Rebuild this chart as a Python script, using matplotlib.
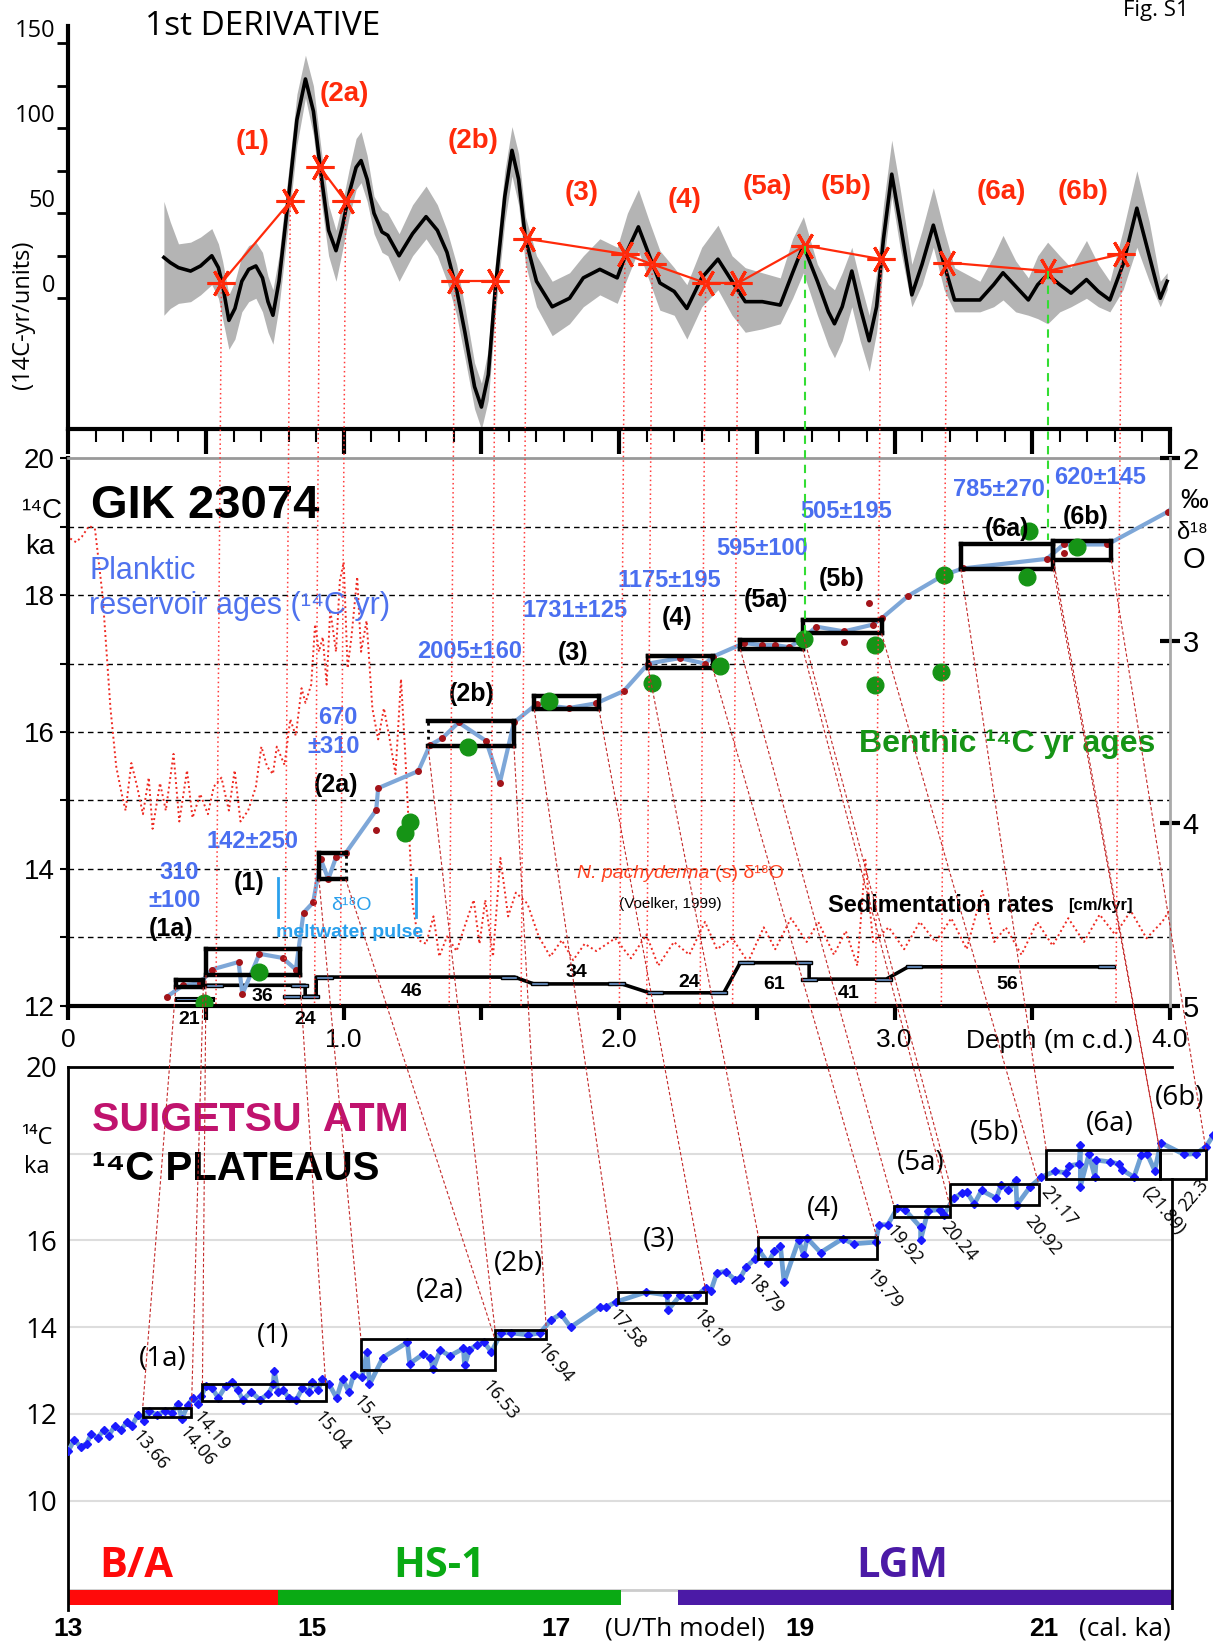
import matplotlib
matplotlib.use("Agg")
import matplotlib.pyplot as plt
from matplotlib.patches import Rectangle

plt.rcParams['font.family'] = ['Liberation Sans', 'DejaVu Sans']

# reference frame (pixels) used to place axes and free text
W, H = 1154, 1568

# ---------------- top panel: 1st derivative vs depth ----------------
deriv_depth = [0.347, 0.37, 0.40, 0.444, 0.48, 0.521, 0.545, 0.56, 0.583, 0.605,
               0.63, 0.655, 0.681, 0.705, 0.725, 0.743, 0.765, 0.80, 0.83, 0.861,
               0.89, 0.92, 0.945, 0.972, 0.995, 1.02, 1.045, 1.063, 1.085, 1.11,
               1.139, 1.16, 1.201, 1.25, 1.299, 1.34, 1.375, 1.41, 1.44, 1.475,
               1.50, 1.525, 1.55, 1.585, 1.611, 1.635, 1.66, 1.70, 1.757, 1.82,
               1.87, 1.93, 1.993, 2.03, 2.07, 2.11, 2.148, 2.20, 2.246, 2.30,
               2.359, 2.41, 2.458, 2.52, 2.585, 2.63, 2.669, 2.72, 2.76, 2.782,
               2.81, 2.845, 2.875, 2.908, 2.935, 2.96, 2.99, 3.02, 3.063, 3.10,
               3.141, 3.18, 3.218, 3.31, 3.36, 3.394, 3.44, 3.486, 3.52, 3.556,
               3.60, 3.641, 3.697, 3.74, 3.782, 3.83, 3.88, 3.925, 3.965, 3.99]
deriv_val = [24, 21, 18, 16, 19, 25, 18, 8, -13, -6,
             10, 17, 19, 12, -2, -10, 10, 60, 105, 129,
             110, 70, 40, 28, 42, 62, 77, 81, 70, 50,
             39, 37, 25, 38, 48, 40, 27, 5, -20, -52,
             -64, -45, 5, 60, 87, 70, 35, 10, -5, 0,
             12, 17, 12, 28, 42, 25, 9, 4, -6, 12,
             23, 10, -2, -2, -4, 15, 31, 10, -8, -15,
             -5, 16, -5, -25, -5, 35, 73, 45, 2, 20,
             43, 20, -1, -1, 8, 15, 7, -1, 8, 14,
             8, 3, 11, 4, -1, 20, 53, 25, 0, 10]
deriv_lo = [-10, -6, -3, -2, 2, 8, 0, -12, -30, -24,
            -8, -2, 0, -8, -20, -27, -5, 45, 90, 118,
            96, 55, 25, 10, 28, 48, 64, 68, 57, 38,
            27, 25, 10, 25, 35, 25, 10, -10, -35, -65,
            -77, -60, -10, 45, 72, 55, 20, -5, -22, -15,
            -5, 2, -3, 12, 28, 10, -7, -10, -24, -5,
            5, -10, -20, -18, -15, 0, 15, -10, -28, -35,
            -25, -5, -25, -43, -20, 20, 60, 30, -5, 8,
            30, 5, -8, -8, -5, -1, -8, -10, -12, -15,
            -8, -5, 0, -5, -8, 5, 30, 10, -5, 5]
deriv_hi = [57, 45, 32, 33, 36, 41, 32, 22, 2, 10,
            25, 31, 33, 27, 13, 5, 25, 75, 120, 143,
            125, 85, 55, 40, 56, 76, 94, 98, 84, 60,
            52, 50, 38, 55, 66, 55, 40, 20, -5, -38,
            -50, -30, 20, 75, 101, 85, 48, 25, 10, 15,
            25, 35, 30, 50, 64, 45, 28, 18, 8, 30,
            43, 25, 18, 15, 12, 35, 48, 20, 8, 5,
            15, 30, 10, -10, 15, 55, 93, 65, 20, 40,
            65, 40, 18, 10, 25, 37, 22, 12, 25, 33,
            25, 18, 34, 20, 10, 40, 75, 45, 10, 15]

# red asterisks (depth, value), joined in groups
star_depth = [0.556, 0.806, 0.914, 1.007, 1.403, 1.551, 1.664, 2.021, 2.12,
              2.314, 2.432, 2.676, 2.951, 3.19, 3.556, 3.824]
star_val = [9, 57, 77, 57, 10, 10, 35, 26, 20, 9, 9, 31, 23, 21, 16, 26]
star_groups = [(0, 2), (2, 4), (4, 6), (6, 13), (13, 16)]
green_star_idx = [11, 14]

top_labels = ['(1)', '(2a)', '(2b)', '(3)', '(4)', '(5a)', '(5b)', '(6a)', '(6b)']
top_label_xy = [(240, 135), (328, 89), (450, 134), (553, 184), (651, 190),
                (730, 178), (805, 178), (953, 183), (1030, 183)]

# ---------------- middle panel: GIK 23074 ----------------
plank_depth = [0.357, 0.417, 0.479, 0.521, 0.618, 0.632, 0.694, 0.778, 0.826, 0.854,
               0.889, 0.917, 0.944, 0.972, 1.007, 1.118, 1.125, 1.271, 1.313, 1.358,
               1.417, 1.517, 1.567, 1.618, 1.701, 1.817, 1.917, 2.017, 2.106, 2.22,
               2.312, 2.34, 2.454, 2.518, 2.567, 2.617, 2.667, 2.716, 2.816, 2.922,
               2.953, 3.05, 3.177, 3.248, 3.553, 3.614, 3.773, 3.993, 4.128]
plank_c14 = [12.13, 12.30, 12.33, 12.53, 12.64, 12.17, 12.76, 12.70, 12.53, 13.36,
             13.51, 14.14, 13.85, 14.17, 14.23, 14.86, 15.18, 15.43, 15.81, 15.91,
             16.14, 15.87, 15.26, 16.14, 16.41, 16.35, 16.42, 16.60, 17.00, 17.08,
             17.00, 17.10, 17.30, 17.27, 17.27, 17.24, 17.36, 17.54, 17.47, 17.57,
             17.66, 17.99, 18.29, 18.39, 18.53, 18.74, 18.74, 19.22, 19.74]
extra_dot_depth = [1.118, 2.816, 2.908, 3.614]
extra_dot_c14 = [14.57, 17.31, 17.89, 18.62]

benth_depth = [0.493, 0.694, 1.222, 1.239, 1.451, 1.747, 2.121, 2.366, 2.67, 2.93,
               2.93, 3.17, 3.18, 3.48, 3.49, 3.662]
benth_c14 = [12.04, 12.50, 14.53, 14.69, 15.78, 16.46, 16.72, 16.97, 17.36, 17.27,
             16.68, 16.88, 18.29, 18.26, 18.93, 18.71]

o18_depth = [0.007, 0.028, 0.049, 0.076, 0.097, 0.125, 0.153, 0.174, 0.194, 0.208,
             0.229, 0.25, 0.271, 0.292, 0.306, 0.333, 0.354, 0.382, 0.403, 0.431,
             0.451, 0.479, 0.507, 0.528, 0.556, 0.583, 0.604, 0.625, 0.653, 0.681,
             0.701, 0.722, 0.743, 0.757, 0.785, 0.806, 0.826, 0.847, 0.861, 0.882,
             0.896, 0.91, 0.924, 0.938, 0.951, 0.972, 0.986, 1.0, 1.014, 1.028,
             1.049, 1.063, 1.083, 1.104, 1.125, 1.146, 1.167, 1.188, 1.208, 1.222,
             1.236, 1.25, 1.271, 1.299, 1.326, 1.347, 1.375, 1.41, 1.438, 1.472,
             1.493, 1.514, 1.542, 1.569, 1.597, 1.625, 1.667, 1.708, 1.75, 1.792,
             1.833, 1.875, 1.917, 1.986, 2.043, 2.099, 2.142, 2.199, 2.255, 2.312,
             2.355, 2.411, 2.468, 2.525, 2.567, 2.624, 2.681, 2.723, 2.78, 2.823,
             2.865, 2.894, 2.922, 2.979, 3.035, 3.092, 3.149, 3.206, 3.262, 3.319,
             3.362, 3.404, 3.461, 3.518, 3.574, 3.631, 3.688, 3.745, 3.801, 3.858,
             3.915, 3.972, 4.014]
o18_val = [2.44, 2.46, 2.43, 2.37, 2.39, 2.76, 3.37, 3.69, 3.84, 3.93,
           3.67, 3.80, 3.95, 3.75, 4.03, 3.78, 3.93, 3.62, 3.99, 3.71,
           3.97, 3.84, 3.95, 3.80, 3.75, 3.93, 3.71, 3.99, 3.93, 3.80,
           3.58, 3.69, 3.73, 3.58, 3.68, 3.43, 3.52, 3.26, 3.34, 3.24,
           2.91, 3.06, 2.98, 3.24, 2.83, 3.06, 2.67, 2.57, 3.15, 2.98,
           2.65, 3.06, 2.89, 3.37, 3.54, 3.37, 3.54, 3.73, 3.21, 3.58,
           4.01, 4.44, 4.64, 4.66, 4.51, 4.73, 4.62, 4.70, 4.57, 4.42,
           4.66, 4.42, 4.73, 4.19, 4.51, 4.38, 4.44, 4.62, 4.73, 4.64,
           4.75, 4.66, 4.70, 4.63, 4.74, 4.61, 4.78, 4.65, 4.72, 4.54,
           4.69, 4.63, 4.76, 4.57, 4.69, 4.52, 4.65, 4.54, 4.72, 4.59,
           4.78, 4.20, 4.65, 4.57, 4.69, 4.54, 4.65, 4.52, 4.69, 4.37,
           4.65, 4.57, 4.72, 4.54, 4.67, 4.52, 4.65, 4.50, 4.61, 4.48,
           4.63, 4.54, 4.44]

# plateau boxes: depth range and 14C range (ka) in the core, cal range and 14C in Suigetsu
plat_names = ['(1a)', '(1)', '(2a)', '(2b)', '(3)', '(4)', '(5a)', '(5b)', '(6a)', '(6b)']
mid_d0 = [0.39, 0.50, 0.91, 1.306, 1.692, 2.106, 2.44, 2.667, 3.241, 3.577]
mid_d1 = [0.49, 0.84, 1.007, 1.618, 1.927, 2.34, 2.667, 2.953, 3.577, 3.787]
mid_lo = [12.27, 12.45, 13.85, 15.80, 16.33, 16.93, 17.21, 17.44, 18.38, 18.51]
mid_hi = [12.38, 12.83, 14.24, 16.16, 16.52, 17.11, 17.34, 17.64, 18.74, 18.79]
# which side of the core box is drawn dotted (None = all solid)
mid_dotted = [None, None, 'right', 'left', None, None, None, None, None, None]
bot_c0 = [13.61, 14.10, 15.40, 16.50, 17.51, 18.66, 19.77, 20.23, 21.02, 21.95]
bot_c1 = [14.01, 15.11, 16.50, 16.92, 18.23, 19.63, 20.23, 20.96, 21.95, 22.33]
bot_lo = [11.92, 12.30, 13.01, 13.73, 14.56, 15.57, 16.55, 16.82, 17.41, 17.41]
bot_hi = [12.14, 12.70, 13.72, 13.93, 14.81, 16.08, 16.80, 17.29, 18.09, 18.09]

reservoir_txt = ['310', '±100', '142±250', '670', '±310', '2005±160', '1731±125',
                 '1175±195', '595±100', '505±195', '785±270', '620±145']
reservoir_xy = [(170, 830), (166, 857), (240, 801), (321, 683), (317, 710), (447, 620),
                (547, 581), (637, 552), (725, 522), (805, 487), (950, 466), (1047, 454)]
mid_label_xy = [(163, 884), (237, 840), (320, 747), (449, 660), (545, 621), (644, 588),
                (729, 571), (801, 551), (958, 503), (1033, 492)]

# sedimentation rate steps (depth, 14C-axis level) and rates
sed_path_d = [0.50, 0.86, 0.86, 0.90, 0.90, 1.62, 1.69, 2.01, 2.11, 2.38, 2.44, 2.69,
              2.69, 2.97, 3.05, 3.79]
sed_path_c = [12.30, 12.30, 12.14, 12.14, 12.42, 12.42, 12.32, 12.32, 12.19, 12.19,
              12.63, 12.63, 12.39, 12.39, 12.57, 12.57]
sed_end_d = [0.53, 0.84, 0.81, 0.88, 0.93, 1.60, 1.71, 1.99, 2.13, 2.36, 2.46, 2.67,
             2.69, 2.96, 3.07, 3.77]
sed_end_c = [12.30, 12.30, 12.14, 12.14, 12.42, 12.42, 12.32, 12.32, 12.19, 12.19,
             12.63, 12.63, 12.39, 12.39, 12.57, 12.57]
sed_rates = ['21', '36', '24', '46', '34', '24', '61', '41', '56']
sed_label_xy = [(180, 970), (250, 948), (290, 970), (392, 943), (548, 925), (656, 935),
                (736, 937), (807, 945), (958, 937)]

# ---------------- bottom panel: Suigetsu atmospheric 14C ----------------
sui_cal = [12.91, 12.96, 13.0, 13.05, 13.10, 13.15, 13.19, 13.24, 13.29, 13.33, 13.38,
           13.43, 13.48, 13.52, 13.57, 13.62, 13.66, 13.73, 13.79, 13.85, 13.90, 13.93,
           13.98, 14.02, 14.06, 14.09, 14.13, 14.18, 14.23, 14.29, 14.34, 14.39, 14.43,
           14.50, 14.57, 14.64, 14.68, 14.69, 14.72, 14.76, 14.81, 14.87, 14.92, 14.97,
           15.0, 15.05, 15.08, 15.14, 15.20, 15.25, 15.30, 15.34, 15.41, 15.45, 15.47,
           15.58, 15.78, 15.80, 15.91, 15.97, 15.99, 16.05, 16.13, 16.24, 16.25, 16.29,
           16.35, 16.41, 16.47, 16.55, 16.63, 16.77, 16.87, 16.96, 17.04, 17.12, 17.36,
           17.41, 17.49, 17.74, 17.91, 17.92, 18.02, 18.08, 18.16, 18.23, 18.27, 18.32,
           18.39, 18.47, 18.51, 18.56, 18.63, 18.66, 18.74, 18.79, 18.84, 18.87, 18.99,
           19.03, 19.06, 19.17, 19.35, 19.44, 19.62, 19.65, 19.72, 19.80, 19.86, 19.99,
           19.99, 20.05, 20.15, 20.18, 20.26, 20.33, 20.37, 20.43, 20.49, 20.61, 20.65,
           20.71, 20.77, 20.78, 20.89, 20.98, 21.09, 21.18, 21.21, 21.29, 21.30, 21.30,
           21.37, 21.42, 21.43, 21.54, 21.62, 21.64, 21.74, 21.80, 21.85, 21.91, 21.96,
           22.15, 22.25, 22.33, 22.39]
sui_c14 = [11.10, 11.02, 11.15, 11.41, 11.24, 11.32, 11.54, 11.45, 11.63, 11.50, 11.72,
           11.63, 11.81, 11.72, 11.98, 11.85, 12.07, 11.98, 12.07, 12.02, 12.24, 11.89,
           12.20, 12.37, 12.24, 12.42, 12.64, 12.59, 12.37, 12.64, 12.73, 12.55, 12.33,
           12.51, 12.33, 12.46, 12.68, 12.99, 12.51, 12.55, 12.37, 12.33, 12.59, 12.51,
           12.73, 12.55, 12.81, 12.68, 12.37, 12.81, 12.51, 12.90, 12.86, 13.43, 12.68,
           13.30, 13.65, 13.16, 13.38, 13.30, 13.03, 13.47, 13.34, 13.51, 13.12, 13.47,
           13.60, 13.65, 13.43, 13.87, 13.87, 13.82, 13.87, 14.17, 14.30, 14.00, 14.46,
           14.46, 14.58, 14.81, 14.74, 14.40, 14.74, 14.65, 14.74, 14.91, 14.84, 15.26,
           15.28, 15.09, 15.13, 15.39, 15.57, 15.79, 15.48, 15.75, 15.88, 15.04, 16.01,
           15.66, 16.05, 15.72, 16.04, 15.92, 15.96, 16.36, 16.36, 16.75, 16.71, 16.30,
           16.01, 16.68, 16.71, 16.58, 16.97, 17.09, 17.11, 16.84, 17.15, 16.97, 17.28,
           17.15, 17.39, 16.82, 17.24, 17.46, 17.59, 17.56, 17.72, 17.76, 18.20, 17.24,
           17.98, 17.46, 17.85, 17.81, 17.76, 17.63, 17.46, 17.96, 17.98, 17.61, 18.25,
           17.98, 18.00, 18.16, 18.42]

bot_label_xy = [(155, 1293), (260, 1271), (418, 1228), (493, 1203), (627, 1180),
                (783, 1150), (876, 1107), (946, 1078), (1056, 1069), (1122, 1045)]
cal_txt = ['13.66', '14.06', '14.19', '15.04', '15.42', '16.53', '16.94', '17.58', '18.19',
           '18.79', '19.79', '19.92', '20.24', '20.92', '21.17', '(21.89)', '22.3']
cal_txt_xy = [(129, 1363), (173, 1359), (187, 1345), (302, 1345), (339, 1330), (462, 1316),
              (514, 1280), (582, 1248), (662, 1248), (714, 1215), (827, 1210), (846, 1168),
              (898, 1164), (978, 1159), (993, 1131), (1090, 1131), (1125, 1150)]
cal_txt_rot = [-50] * 16 + [50]

periods = ['B/A', 'HS-1', 'LGM']
period_start = [13.0, 14.72, 18.0]
period_end = [14.72, 17.53, 22.05]
period_col = ['#ff0a0a', '#0aaa14', '#4b1aa6']
period_xy = [(130, 1490), (418, 1490), (858, 1490)]

OPEN = ['Open Sans', 'DejaVu Sans']


def frac_rect(x0, y0, x1, y1):
    return [x0 / W, 1 - y1 / H, (x1 - x0) / W, (y1 - y0) / H]


def ftext(x, y, s, **kw):
    kw.setdefault('ha', 'center')
    kw.setdefault('va', 'center')
    return fig.text(x / W, 1 - y / H, s, **kw)


fig = plt.figure(figsize=(12.13, 16.48), dpi=100)

# ======== top panel ========
ax_top = fig.add_axes(frac_rect(65, 25, 1113, 408))
ax_top.set_xlim(0, 4.0)
ax_top.set_ylim(-76.8, 160)
ax_top.fill_between(deriv_depth, deriv_lo, deriv_hi, color='#b4b4b4', lw=0)
ax_top.plot(deriv_depth, deriv_val, color='black', lw=2.6, solid_joinstyle='round')
for a, b in star_groups:
    ax_top.plot(star_depth[a:b], star_val[a:b], color='#ff2a0a', lw=1.6)
ax_top.plot(star_depth, star_val, ls='none', marker=(6, 2, 90), ms=20, mew=2.2,
            color='#ff2a0a')
for s in ['top', 'right']:
    ax_top.spines[s].set_visible(False)
for s in ['left', 'bottom']:
    ax_top.spines[s].set_linewidth(3)
ax_top.set_yticks([0, 25, 50, 75, 100, 125, 150])
ax_top.set_yticklabels(['0', '', '50', '', '100', '', '150'])
ax_top.tick_params(axis='y', direction='out', length=8, width=2, labelsize=17, pad=1)
for lbl in ax_top.get_yticklabels():
    lbl.set_va('bottom')
    lbl.set_family(OPEN)
ax_top.set_xticks([i * 0.5 for i in range(9)])
ax_top.set_xticks([i * 0.1 for i in range(41)], minor=True)
ax_top.set_xticklabels([])
ax_top.tick_params(axis='x', which='major', direction='out', length=18, width=3)
ax_top.tick_params(axis='x', which='minor', direction='out', length=9, width=1.5)
ax_top.patch.set_alpha(0)

ftext(250, 25, '1st DERIVATIVE', fontsize=24, family=OPEN)
ftext(22, 300, '(14C-yr/units)', fontsize=17, rotation=90, family=OPEN)
for t, (x, y) in zip(top_labels, top_label_xy):
    ftext(x, y, t, fontsize=20, weight='bold', color='#ff2a0a')
ftext(1100, 10, 'Fig. S1', fontsize=16, family=OPEN)

# ======== middle panel ========
ax_mid = fig.add_axes(frac_rect(65, 436, 1113, 957))
ax_mid.set_xlim(0, 4.0)
ax_mid.set_ylim(12, 20)
ax_o18 = ax_mid.twinx()
ax_o18.set_ylim(5, 2)

for lev in range(13, 20):
    ax_mid.axhline(lev, color='black', lw=1, ls=(0, (4, 3)), zorder=1)

ax_mid.plot(o18_depth, o18_val, color='#ee2a22', lw=1.4, ls=(0, (1, 1.5)),
            transform=ax_o18.transData, zorder=2)

ax_mid.plot(sed_path_d, sed_path_c, color='black', lw=2.6, zorder=3)
ax_mid.add_patch(Rectangle((0.39, 12.07), 0.14, 0.05, fc='#6f9bd1', ec='black', lw=1.5,
                           zorder=4))
for d, c in zip(sed_end_d, sed_end_c):
    ax_mid.add_patch(Rectangle((d - 0.03, c - 0.022), 0.06, 0.044, fc='#6f9bd1',
                               ec='black', lw=1, zorder=4))

ax_mid.plot(plank_depth, plank_c14, color='#7ea7d8', lw=3, zorder=4)
ax_mid.plot(plank_depth, plank_c14, ls='none', marker='o', ms=4, color='#a3141a',
            zorder=5)
ax_mid.plot(extra_dot_depth, extra_dot_c14, ls='none', marker='o', ms=4, color='#a3141a',
            zorder=5)

for i in range(len(plat_names)):
    x0, x1, y0, y1 = mid_d0[i], mid_d1[i], mid_lo[i], mid_hi[i]
    sides = {'top': ([x0, x1], [y1, y1]), 'bottom': ([x0, x1], [y0, y0]),
             'left': ([x0, x0], [y0, y1]), 'right': ([x1, x1], [y0, y1])}
    for name, (xs, ys) in sides.items():
        if name == mid_dotted[i]:
            ax_mid.plot(xs, ys, color='black', lw=2, ls=(0, (1, 1.5)), zorder=6)
        else:
            ax_mid.plot(xs, ys, color='black', lw=3.2, solid_capstyle='projecting',
                        zorder=6)

ax_mid.plot(benth_depth, benth_c14, ls='none', marker='o', ms=12, color='#169416',
            zorder=7)

# meltwater pulse bars
for d in [0.763, 1.263]:
    ax_mid.plot([d, d], [13.3, 13.87], color='#2aa0ec', lw=2, zorder=5)

ax_mid.spines['left'].set_linewidth(3)
ax_mid.spines['bottom'].set_linewidth(3)
ax_mid.spines['top'].set_color('#999999')
ax_mid.spines['top'].set_linewidth(2)
for s in ax_o18.spines.values():
    s.set_visible(False)
ax_o18.spines['right'].set_visible(True)
ax_o18.spines['right'].set_color('#aaaaaa')
ax_o18.spines['right'].set_linewidth(2)
ax_mid.spines['right'].set_visible(False)

ax_mid.set_yticks(range(12, 21))
ax_mid.set_yticklabels(['12', '', '14', '', '16', '', '18', '', '20'])
ax_mid.tick_params(axis='y', direction='out', length=6, width=1.5, labelsize=20, pad=4)
ax_mid.set_xticks([i * 0.5 for i in range(9)])
ax_mid.set_xticklabels(['0', '', '1.0', '', '2.0', '', '3.0', '', '4.0'])
ax_mid.tick_params(axis='x', direction='out', length=10, width=3, labelsize=19, pad=6)
ax_o18.set_yticks([2, 3, 4, 5])
ax_o18.tick_params(axis='y', direction='inout', length=14, width=3, labelsize=21, pad=2,
                   colors='black')

ftext(87, 481, 'GIK 23074', fontsize=34, weight='bold', ha='left')
ftext(40, 486, '¹⁴C', fontsize=20)
ftext(38, 520, 'ka', fontsize=20)
ftext(85, 543, 'Planktic', fontsize=22, color='#4f72ee', ha='left')
ftext(85, 577, 'reservoir ages (¹⁴C yr)', fontsize=22, color='#4f72ee', ha='left')
for t, (x, y) in zip(reservoir_txt, reservoir_xy):
    ftext(x, y, t, fontsize=17, weight='bold', color='#4a6ff0')
for t, (x, y) in zip(plat_names, mid_label_xy):
    ftext(x, y, t, fontsize=18, weight='bold')
ftext(334, 862, 'δ¹⁸O', fontsize=14, color='#2aa0ec')
ftext(333, 887, 'meltwater pulse', fontsize=14, weight='bold', color='#2aa0ec')
ftext(675, 831, 'N. pachyderma', fontsize=14, style='italic', color='#ff4422', ha='right')
ftext(680, 831, '(s) δ¹⁸O', fontsize=14, color='#ff4422', ha='left')
ftext(638, 860, '(Voelker, 1999)', fontsize=11)
ftext(788, 862, 'Sedimentation rates', fontsize=17, weight='bold', ha='left')
ftext(1016, 862, '[cm/kyr]', fontsize=12, weight='bold', ha='left')
ftext(958, 708, 'Benthic ¹⁴C yr ages', fontsize=23, weight='bold', color='#169416')
ftext(1136, 477, '‰', fontsize=20)
ftext(1134, 507, 'δ¹⁸', fontsize=17)
ftext(1136, 533, 'O', fontsize=21)
ftext(999, 990, 'Depth (m c.d.)', fontsize=19)
for t, (x, y) in zip(sed_rates, sed_label_xy):
    ftext(x, y, t, fontsize=14, weight='bold')

# ======== bottom panel ========
ax_bot = fig.add_axes(frac_rect(65, 1015, 1154, 1532))
ax_bot.set_xlim(13, 13 + 1089 / 116)
ax_bot.set_ylim(7.48, 20)
for lev in [10, 12, 14, 16, 18]:
    ax_bot.plot([13, 22.05], [lev, lev], color='#dddddd', lw=1.5, zorder=1)
ax_bot.plot([13, 22.05], [20, 20], color='black', lw=2, clip_on=False, zorder=3)
ax_bot.plot([22.05, 22.05], [7.48, 17.41], color='black', lw=2, zorder=3)
ax_bot.plot([13, 22.05], [7.95, 7.95], color='#cccccc', lw=2, zorder=1)
for a, b, c in zip(period_start, period_end, period_col):
    ax_bot.add_patch(Rectangle((a, 7.6), b - a, 0.35, color=c, lw=0, zorder=2))

ax_bot.plot(sui_cal, sui_c14, color='#6d9fd3', lw=3.4, zorder=3)
ax_bot.plot(sui_cal, sui_c14, ls='none', marker='D', ms=4.5, color='#1a1aff', zorder=4)
for i in range(len(plat_names)):
    ax_bot.add_patch(Rectangle((bot_c0[i], bot_lo[i]), bot_c1[i] - bot_c0[i],
                               bot_hi[i] - bot_lo[i], fill=False, ec='black', lw=2,
                               zorder=5))

for s in ['top', 'right', 'bottom']:
    ax_bot.spines[s].set_visible(False)
ax_bot.spines['left'].set_linewidth(2)
ax_bot.set_yticks([10, 12, 14, 16, 20])
ax_bot.tick_params(axis='y', length=0, labelsize=20, pad=8)
for lbl in ax_bot.get_yticklabels():
    lbl.set_family(OPEN)
ax_bot.set_xticks([13, 15, 17, 19, 21])
ax_bot.tick_params(axis='x', length=0, labelsize=19, pad=5)
for lbl in ax_bot.get_xticklabels():
    lbl.set_weight('bold')

ftext(88, 1066, 'SUIGETSU  ATM', fontsize=29.5, weight='bold', color='#c0136e', ha='left')
ftext(88, 1112, '¹⁴C PLATEAUS', fontsize=29, weight='bold', ha='left')
ftext(35, 1083, '¹⁴C', fontsize=17, family=OPEN)
ftext(35, 1110, 'ka', fontsize=17, family=OPEN)
for t, (x, y) in zip(plat_names, bot_label_xy):
    ftext(x, y, t, fontsize=20, family=OPEN)
for t, (x, y), r in zip(cal_txt, cal_txt_xy, cal_txt_rot):
    ftext(x, y, t, fontsize=13, rotation=r, rotation_mode='anchor', ha='left',
          family=OPEN)
for t, (x, y), c in zip(periods, period_xy, period_col):
    ftext(x, y, t, fontsize=30, weight='bold', color=c, family=OPEN)
ftext(652, 1550, '(U/Th model)', fontsize=19, family=OPEN)
ftext(1070, 1550, '(cal. ka)', fontsize=19, family=OPEN)

# ======== connector lines across panels ========
ov = fig.add_axes([0, 0, 1, 1], zorder=10)
ov.set_xlim(0, 1)
ov.set_ylim(0, 1)
ov.axis('off')
ov.patch.set_alpha(0)
inv = fig.transFigure.inverted()


def fpt(ax, x, y):
    return inv.transform(ax.transData.transform((x, y)))


for i, (d, v) in enumerate(zip(star_depth, star_val)):
    p0 = fpt(ax_top, d, v)
    if i in green_star_idx:
        target = 17.4 if i == 11 else 18.8
        p1 = fpt(ax_mid, d, target)
        ov.plot([p0[0], p1[0]], [p0[1], p1[1]], color='#33dd33', lw=1.5,
                ls=(0, (4, 3)))
    else:
        p1 = fpt(ax_mid, d - 0.02, 12.0)
        ov.plot([p0[0], p1[0]], [p0[1], p1[1]], color='#ff3a3a', lw=1.1,
                ls=(0, (1, 2)))

for i in range(len(plat_names)):
    for dm, cb in [(mid_d0[i], bot_c0[i]), (mid_d1[i], bot_c1[i])]:
        p0 = fpt(ax_mid, dm, mid_lo[i])
        p1 = fpt(ax_bot, cb, bot_hi[i])
        ov.plot([p0[0], p1[0]], [p0[1], p1[1]], color='#c42a2a', lw=0.8,
                ls=(0, (3, 2)))

fig.savefig('out.png', dpi=100)
